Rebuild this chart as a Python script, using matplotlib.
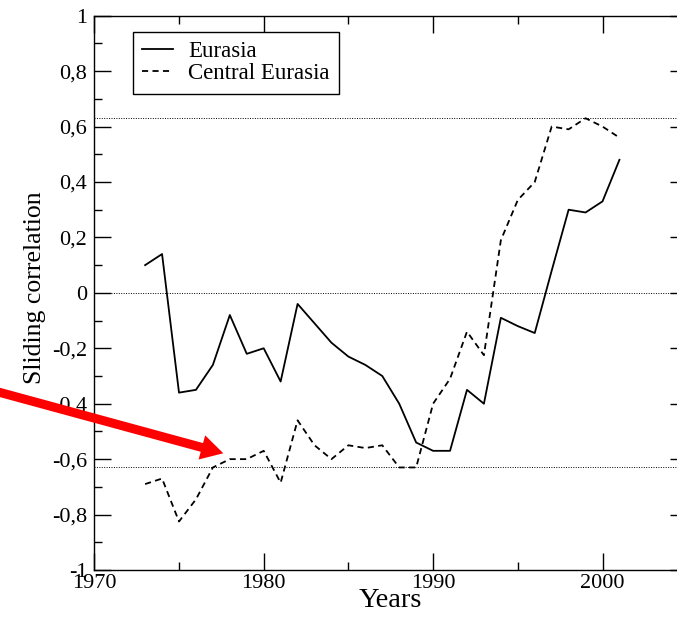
import matplotlib
matplotlib.use("Agg")
import matplotlib.pyplot as plt
from matplotlib.ticker import MultipleLocator, FuncFormatter
from matplotlib.patches import FancyArrowPatch
from matplotlib.transforms import IdentityTransform

years = list(range(1973, 2002))
eurasia = [0.10, 0.14, -0.36, -0.35, -0.26, -0.08, -0.22, -0.20, -0.32, -0.04,
           -0.11, -0.18, -0.23, -0.26, -0.30, -0.40, -0.54, -0.57, -0.57, -0.35,
           -0.40, -0.09, -0.12, -0.145, 0.08, 0.30, 0.29, 0.33, 0.48]
central_eurasia = [-0.69, -0.67, -0.825, -0.745, -0.63, -0.60, -0.60, -0.57, -0.685, -0.46,
                   -0.55, -0.60, -0.55, -0.56, -0.55, -0.63, -0.63, -0.40, -0.31, -0.14,
                   -0.225, 0.19, 0.335, 0.40, 0.60, 0.59, 0.63, 0.60, 0.56]
ref_levels = [0.63, 0.0, -0.63]

plt.rcParams['font.family'] = ['Liberation Serif', 'DejaVu Serif']

fig = plt.figure(figsize=(6.77, 6.21), dpi=100)
ax = fig.add_axes([94.3 / 677, 51 / 621, (687.2 - 94.3) / 677, (570 - 15.7) / 621])

for lv in ref_levels:
    ax.axhline(lv, color='black', lw=0.7, ls=(0, (1, 1.5)))

ax.plot(years, eurasia, color='black', lw=1.3, label='Eurasia')
ax.plot(years, central_eurasia, color='black', lw=1.3, ls=(0, (3.4, 2.4)), label='Central Eurasia')

ax.set_xlim(1970, 2005)
ax.set_ylim(-1, 1)
ax.xaxis.set_major_locator(MultipleLocator(10))
ax.xaxis.set_minor_locator(MultipleLocator(5))
ax.yaxis.set_major_locator(MultipleLocator(0.2))
ax.yaxis.set_minor_locator(MultipleLocator(0.1))

def yfmt(v, pos):
    s = f"{v:.1f}"
    if s in ("1.0", "-1.0", "0.0", "-0.0"):
        s = s.split('.')[0].replace('-0', '0')
    return s.replace('.', ',')

ax.yaxis.set_major_formatter(FuncFormatter(yfmt))
ax.tick_params(which='both', direction='in', top=True, right=True, labelsize=16, color='black')
ax.tick_params(which='major', length=12, width=1)
ax.tick_params(which='minor', length=6, width=1)
ax.tick_params(axis='x', pad=3)
ax.tick_params(axis='y', pad=5)
for sp in ax.spines.values():
    sp.set_linewidth(1.0)

ax.set_xlabel('Years', fontsize=20.5, labelpad=-4)
ax.set_ylabel('Sliding correlation', fontsize=18.5)
ax.yaxis.set_label_coords(46 / 677, (621 - 287.5) / 621, transform=fig.transFigure)

leg = ax.legend(loc='upper left', fontsize=16.5, frameon=True, fancybox=False,
                edgecolor='black', framealpha=1, handlelength=1.35, borderpad=0.4,
                labelspacing=0.05, handletextpad=0.65, borderaxespad=0)
leg.get_frame().set_linewidth(1.0)
leg.set_bbox_to_anchor((133, 621 - 32), transform=IdentityTransform())

arrow = FancyArrowPatch((-20, 621 - 387), (226, 621 - 454), transform=IdentityTransform(),
                        arrowstyle='simple,tail_width=6.5,head_width=18,head_length=16',
                        mutation_scale=1, color='red', lw=0, clip_on=False)
fig.patches.append(arrow)

fig.savefig('out.png', dpi=100)
